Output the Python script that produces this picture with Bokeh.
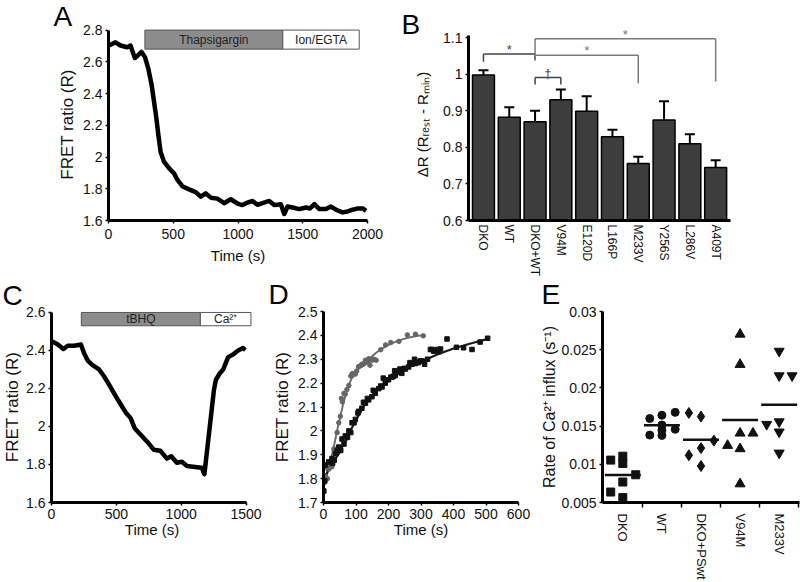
from bokeh.plotting import figure
from bokeh.layouts import row, column
from bokeh.models import Range1d, FixedTicker, ColumnDataSource, Whisker, TeeHead
from bokeh.core.properties import value
from bokeh.embed import file_html
from bokeh.resources import INLINE

FONT = "Liberation Sans"

# ---------------- Panel A data ----------------
a_time = [3, 54, 93, 144, 170, 183, 204, 227, 255, 281, 307, 333, 351, 369, 384, 402, 428, 467,
          505, 531, 570, 622, 673, 712, 751, 790, 841, 893, 944, 996, 1034, 1073, 1112, 1150,
          1189, 1241, 1280, 1331, 1357, 1383, 1422, 1473, 1525, 1556, 1590, 1628, 1680, 1718,
          1757, 1808, 1847, 1886, 1925, 1963, 1989]
a_ratio = [2.703, 2.723, 2.703, 2.692, 2.703, 2.672, 2.624, 2.641, 2.662, 2.631, 2.559, 2.455,
           2.352, 2.249, 2.146, 2.033, 1.971, 1.930, 1.899, 1.857, 1.816, 1.796, 1.779, 1.750,
           1.771, 1.744, 1.738, 1.709, 1.734, 1.707, 1.697, 1.713, 1.723, 1.699, 1.709, 1.723,
           1.697, 1.703, 1.641, 1.688, 1.682, 1.672, 1.682, 1.676, 1.703, 1.672, 1.672, 1.688,
           1.668, 1.651, 1.657, 1.668, 1.676, 1.676, 1.661]
a_stim_labels = ["Thapsigargin", "Ion/EGTA"]
a_stim_start = [281, 1346]
a_stim_end = [1346, 1936]
a_xticks = [0, 500, 1000, 1500, 2000]
a_xtick_labels = ["0", "500", "1000", "1500", "2000"]
a_yticks = [1.6, 1.8, 2.0, 2.2, 2.4, 2.6, 2.8]
a_ytick_labels = ["1.6", "1.8", "2", "2.2", "2.4", "2.6", "2.8"]

# ---------------- Panel B data ----------------
b_groups = ["DKO", "WT", "DKO+WT", "V94M", "E120D", "L166P", "M233V", "Y256S", "L286V", "A409T"]
b_means = [0.998, 0.882, 0.870, 0.930, 0.899, 0.829, 0.756, 0.875, 0.810, 0.745]
b_lower = [0.985, 0.853, 0.836, 0.900, 0.857, 0.812, 0.738, 0.822, 0.783, 0.725]
b_upper = [1.011, 0.910, 0.900, 0.958, 0.940, 0.848, 0.774, 0.926, 0.836, 0.765]
b_sig_from = ["DKO", "DKO+WT", "DKO+WT", "DKO+WT"]
b_sig_to = ["DKO+WT", "V94M", "M233V", "A409T"]
b_sig_mark = ["*", "\u2020", "*", "*"]
b_sig_level = [1.055, 0.991, 1.052, 1.097]
b_sig_left_end = [1.034, 0.972, 1.038, 1.038]
b_sig_right_end = [1.038, 0.972, 0.975, 0.980]
b_yticks = [0.6, 0.7, 0.8, 0.9, 1.0, 1.1]
b_ytick_labels = ["0.6", "0.7", "0.8", "0.9", "1", "1.1"]

# ---------------- Panel C data ----------------
c_time = [5, 49, 92, 125, 176, 227, 253, 278, 316, 367, 406, 444, 495, 533, 572, 610, 643, 686,
          738, 788, 839, 890, 924, 967, 1006, 1044, 1107, 1158, 1179, 1253, 1268, 1298, 1324,
          1342, 1362, 1400, 1439, 1477, 1495]
c_ratio = [2.448, 2.431, 2.408, 2.425, 2.425, 2.431, 2.383, 2.348, 2.323, 2.300, 2.263, 2.220,
           2.160, 2.117, 2.074, 2.044, 1.989, 1.958, 1.920, 1.878, 1.872, 1.831, 1.843, 1.809,
           1.814, 1.792, 1.787, 1.783, 1.749, 2.194, 2.246, 2.280, 2.300, 2.331, 2.365, 2.379,
           2.400, 2.413, 2.403]
c_stim_labels = ["tBHQ", "Ca\u00b2\u207a"]
c_stim_start = [230, 1148]
c_stim_end = [1148, 1538]
c_xticks = [0, 500, 1000, 1500]
c_xtick_labels = ["0", "500", "1000", "1500"]
c_yticks = [1.6, 1.8, 2.0, 2.2, 2.4, 2.6]
c_ytick_labels = ["1.6", "1.8", "2", "2.2", "2.4", "2.6"]

# ---------------- Panel D data ----------------
d_gray_t = [0, 1, 2, 5, 11, 12, 17, 22, 26, 32, 33, 42, 47, 52, 55, 58, 63, 67, 72, 78, 84, 88,
            89, 96, 98, 102, 108, 109, 117, 118, 123, 129, 130, 137, 139, 143, 149, 150, 155,
            162, 176, 191, 207, 232, 258, 283, 307]
d_gray_r = [1.78, 1.816, 1.86, 1.81, 1.843, 1.80, 1.84, 1.864, 1.85, 1.925, 1.918, 1.993, 2.034,
            2.061, 2.136, 2.122, 2.157, 2.154, 2.173, 2.19, 2.23, 2.232, 2.24, 2.24, 2.238, 2.25,
            2.268, 2.27, 2.275, 2.279, 2.28, 2.296, 2.286, 2.29, 2.302, 2.275, 2.30, 2.296, 2.30,
            2.296, 2.34, 2.36, 2.37, 2.375, 2.402, 2.405, 2.398]
d_black_t = [1, 4, 6, 16, 26, 28, 33, 37, 42, 47, 53, 57, 63, 67, 74, 78, 84, 88, 94, 98, 106,
             108, 118, 123, 129, 135, 139, 149, 153, 159, 170, 176, 180, 184, 190, 200, 207, 211,
             215, 219, 221, 231, 235, 241, 249, 252, 262, 266, 272, 280, 282, 288, 292, 297, 303,
             311, 320, 329, 334, 339, 350, 354, 360, 380, 409, 431, 457, 482, 505]
d_black_r = [1.748, 1.79, 1.857, 1.87, 1.884, 1.864, 1.877, 1.904, 1.918, 1.932, 1.918, 1.966,
             1.945, 1.979, 1.973, 2.0, 1.993, 2.034, 2.034, 2.048, 2.075, 2.082, 2.095, 2.12,
             2.116, 2.136, 2.13, 2.143, 2.17, 2.157, 2.177, 2.188, 2.184, 2.221, 2.2, 2.214,
             2.225, 2.225, 2.229, 2.252, 2.232, 2.245, 2.259, 2.241, 2.262, 2.259, 2.268, 2.286,
             2.279, 2.3, 2.282, 2.286, 2.286, 2.293, 2.293, 2.279, 2.30, 2.341, 2.341, 2.334,
             2.341, 2.331, 2.343, 2.385, 2.35, 2.348, 2.341, 2.372, 2.388]
d_gray_fit_t = [0, 10, 20, 30, 40, 50, 60, 70, 80, 90, 100, 120, 140, 160, 180, 200, 230, 260, 290, 310]
d_gray_fit_r = [1.78, 1.82, 1.87, 1.92, 1.99, 2.05, 2.11, 2.16, 2.20, 2.23, 2.25, 2.28, 2.30,
                2.325, 2.345, 2.36, 2.378, 2.39, 2.398, 2.40]
d_black_fit_t = [0, 10, 20, 30, 40, 50, 60, 70, 80, 90, 100, 120, 140, 160, 180, 200, 230, 260,
                 300, 350, 400, 450, 500, 510]
d_black_fit_r = [1.78, 1.82, 1.85, 1.87, 1.89, 1.91, 1.94, 1.96, 1.99, 2.02, 2.045, 2.095, 2.135,
                 2.165, 2.19, 2.21, 2.24, 2.265, 2.29, 2.32, 2.345, 2.365, 2.383, 2.387]
d_xticks = [0, 100, 200, 300, 400, 500, 600]
d_xtick_labels = ["0", "100", "200", "300", "400", "500", "600"]
d_yticks = [1.7, 1.8, 1.9, 2.0, 2.1, 2.2, 2.3, 2.4, 2.5]
d_ytick_labels = ["1.7", "1.8", "1.9", "2", "2.1", "2.2", "2.3", "2.4", "2.5"]

# ---------------- Panel E data ----------------
e_groups = ["DKO", "WT", "DKO+PSwt", "V94M", "M233V"]
e_dko = [0.01055, 0.00637, 0.01106, 0.01011, 0.00768, 0.00564, 0.00863]
e_dko_jitter = [-0.31, -0.31, 0, 0, 0, 0, 0.33]
e_wt = [0.01599, 0.01382, 0.01642, 0.01514, 0.01446, 0.01378, 0.0168, 0.01459]
e_wt_jitter = [-0.31, -0.31, 0, 0, 0, 0, 0.34, 0.34]
e_ps = [0.01672, 0.01118, 0.01625, 0.01212, 0.00977, 0.0131]
e_ps_jitter = [-0.31, -0.31, 0, 0, 0, 0.33]
e_v94m = [0.01246, 0.02702, 0.02306, 0.01407, 0.01203, 0.00743, 0.01407]
e_v94m_jitter = [-0.32, 0, 0, 0, 0, 0, 0.33]
e_m233v = [0.01523, 0.02481, 0.0216, 0.01557, 0.01424, 0.01148, 0.0216]
e_m233v_jitter = [-0.32, 0, 0, 0, 0, 0, 0.33]
e_means = [0.0086, 0.0151, 0.0132, 0.0158, 0.0178]
e_yticks = [0.005, 0.01, 0.015, 0.02, 0.025, 0.03]
e_ytick_labels = ["0.005", "0.01", "0.015", "0.02", "0.025", "0.03"]


def make_fig(w, h, left, right, top, bottom, xr, yr, letter, letter_x, letter_standoff):
    p = figure(width=w, height=h, x_range=xr, y_range=yr, output_backend="svg",
               toolbar_location=None, min_border_left=left, min_border_right=right,
               min_border_top=top, min_border_bottom=bottom)
    p.outline_line_color = None
    p.grid.visible = False
    p.background_fill_color = "white"
    p.border_fill_color = "white"
    for ax in p.axis:
        ax.axis_line_width = 3
        ax.axis_line_color = "black"
        ax.major_tick_line_width = 1.5
        ax.major_tick_out = 3
        ax.major_tick_in = 0
        ax.minor_tick_line_color = None
        ax.major_label_text_font = FONT
        ax.major_label_text_font_size = "14px"
        ax.major_label_text_color = "#111111"
        ax.major_label_standoff = 3
        ax.axis_label_text_font = FONT
        ax.axis_label_text_font_style = "normal"
        ax.axis_label_text_font_size = "15px"
        ax.axis_label_text_color = "#111111"
    # panel letter, drawn as the figure title in the top border
    p.title.text = letter
    p.title.text_font = FONT
    p.title.text_font_size = "28px"
    p.title.text_font_style = "normal"
    p.title.text_color = "black"
    p.title.align = "left"
    p.title.vertical_align = "top"
    p.title.offset = letter_x - left
    p.title.standoff = letter_standoff
    return p


def set_ticks(axis, ticks, labels):
    axis.ticker = FixedTicker(ticks=ticks)
    axis.major_label_overrides = dict(zip(ticks, labels))


def stim_bar(p, starts, ends, labels, bottom, top):
    p.quad(left=starts, right=ends, bottom=bottom, top=top,
           fill_color=["#8c8c8c", "white"], line_color="#555555", line_width=1)
    p.text(x=[(s + e) / 2 for s, e in zip(starts, ends)], y=(bottom + top) / 2, text=labels,
           text_align="center", text_baseline="middle", text_font=value(FONT),
           text_font_size="12px", text_color="#222222")


# ---------------- Panel A ----------------
pA = make_fig(400, 279, 108, 33, 28, 56, Range1d(0, 2000), Range1d(1.6, 2.81), "A", 53, -11)
stim_bar(pA, a_stim_start, a_stim_end, a_stim_labels, 2.68, 2.80)
pA.line(a_time, a_ratio, line_width=4.5, line_color="black", line_join="round")
set_ticks(pA.xaxis[0], a_xticks, a_xtick_labels)
set_ticks(pA.yaxis[0], a_yticks, a_ytick_labels)
pA.yaxis.bounds = (1.6, 2.8)
pA.xaxis.axis_label = "Time (s)"
pA.yaxis.axis_label = "FRET ratio (R)"
pA.yaxis.axis_label_text_font_size = "17px"
pA.yaxis.axis_label_standoff = 3
pA.xaxis.major_label_standoff = 5
pA.xaxis.axis_label_standoff = 5

# ---------------- Panel B ----------------
pB = make_fig(400, 279, 68, 70, 18, 56, Range1d(-0.58, 9.575), Range1d(0.6, 1.125), "B", 1, -26)
b_x = list(range(len(b_groups)))
pB.vbar(x=b_x, top=b_means, bottom=0.6, width=0.85, fill_color="#3d3d3d",
        line_color="black", line_width=1.5)
err_src = ColumnDataSource(dict(x=b_x, lower=b_lower, upper=b_upper))
pB.add_layout(Whisker(base="x", lower="lower", upper="upper", source=err_src,
                      line_width=2, line_color="black",
                      upper_head=TeeHead(size=10, line_width=2, line_color="black"),
                      lower_head=TeeHead(size=10, line_width=2, line_color="black")))
sig_colors = ["#444444", "#444444", "#7a7a7a", "#7a7a7a"]
for f, t, mark, lvl, le, re, col in zip(b_sig_from, b_sig_to, b_sig_mark, b_sig_level,
                                        b_sig_left_end, b_sig_right_end, sig_colors):
    i0, i1 = b_groups.index(f), b_groups.index(t)
    pB.segment(x0=[i0, i0, i1], y0=[lvl, lvl, lvl], x1=[i1, i0, i1], y1=[lvl, le, re],
               line_color=col, line_width=1.5)
    pB.text(x=[(i0 + i1) / 2], y=[lvl + 0.012], text=[mark], text_align="center",
            text_baseline="middle", text_font=value(FONT), text_font_size="13px",
            text_color=col)
pB.xaxis.ticker = FixedTicker(ticks=b_x)
pB.xaxis.major_label_overrides = dict(zip(b_x, b_groups))
pB.xaxis.major_label_orientation = "vertical"
pB.xaxis.major_tick_out = 0
pB.xaxis.major_label_standoff = 4
pB.xaxis.major_label_text_font_size = "12px"
set_ticks(pB.yaxis[0], b_yticks, b_ytick_labels)
pB.yaxis.bounds = (0.6, 1.106)
pB.yaxis.axis_label = "\u0394R (R\u1d63\u2091\u209b\u209c - R\u2098\u1d62\u2099)"
pB.yaxis.axis_label_standoff = 9

# ---------------- Panel C ----------------
pC = make_fig(265, 303, 50, 13, 31, 76, Range1d(0, 1550), Range1d(1.6, 2.605), "C", 1, -2)
stim_bar(pC, c_stim_start, c_stim_end, c_stim_labels, 2.53, 2.60)
pC.line(c_time, c_ratio, line_width=4.5, line_color="black", line_join="round")
set_ticks(pC.xaxis[0], c_xticks, c_xtick_labels)
set_ticks(pC.yaxis[0], c_yticks, c_ytick_labels)
pC.xaxis.bounds = (0, 1500)
pC.yaxis.bounds = (1.6, 2.6)
pC.xaxis.axis_label = "Time (s)"
pC.yaxis.axis_label = "FRET ratio (R)"
pC.yaxis.axis_label_text_font_size = "17px"
pC.yaxis.axis_label_standoff = 1
pC.xaxis.axis_label_standoff = -1

# ---------------- Panel D ----------------
pD = make_fig(265, 303, 58, 12, 32, 75, Range1d(0, 600), Range1d(1.7, 2.5), "D", 3, -1)
pD.line(d_gray_fit_t, d_gray_fit_r, line_width=2, line_color="#707070")
pD.line(d_black_fit_t, d_black_fit_r, line_width=2.2, line_color="#1a1a1a")
pD.scatter(d_gray_t, d_gray_r, marker="circle", size=4.5, fill_color="#666666",
           line_color="#666666")
pD.scatter(d_black_t, d_black_r, marker="square", size=4.5, fill_color="#111111",
           line_color="#111111")
set_ticks(pD.xaxis[0], d_xticks, d_xtick_labels)
set_ticks(pD.yaxis[0], d_yticks, d_ytick_labels)
pD.xaxis.axis_label = "Time (s)"
pD.yaxis.axis_label = "FRET ratio (R)"
pD.yaxis.axis_label_text_font_size = "17px"
pD.yaxis.axis_label_standoff = 3
pD.xaxis.axis_label_standoff = -1

# ---------------- Panel E ----------------
pE = make_fig(270, 303, 72, 1, 32, 75, Range1d(-0.52, 4.52), Range1d(0.005, 0.03), "E", 11, -1)
e_series = [(e_dko, e_dko_jitter, "square", 8), (e_wt, e_wt_jitter, "circle", 8),
            (e_ps, e_ps_jitter, "diamond", 11), (e_v94m, e_v94m_jitter, "triangle", 10),
            (e_m233v, e_m233v_jitter, "inverted_triangle", 10)]
for gi, (vals, jit, mk, sz) in enumerate(e_series):
    pE.scatter([gi + j for j in jit], vals, marker=mk, size=sz, fill_color="#111111",
               line_color="#111111")
e_x = list(range(len(e_groups)))
pE.segment(x0=[i - 0.46 for i in e_x], x1=[i + 0.46 for i in e_x], y0=e_means, y1=e_means,
           line_color="#111111", line_width=2.5)
pE.xaxis.ticker = FixedTicker(ticks=e_x, minor_ticks=[i + 0.5 for i in e_x])
pE.xaxis.major_label_overrides = dict(zip(e_x, e_groups))
pE.xaxis.major_label_orientation = "vertical"
pE.xaxis.major_tick_out = 0
pE.xaxis.minor_tick_line_color = "black"
pE.xaxis.minor_tick_line_width = 1.5
pE.xaxis.minor_tick_out = 5
pE.xaxis.minor_tick_in = 0
pE.xaxis.major_label_standoff = 6
pE.xaxis.major_label_text_font_size = "13px"
set_ticks(pE.yaxis[0], e_yticks, e_ytick_labels)
pE.yaxis.axis_label = "Rate of Ca\u00b2\u207a influx (s\u207b\u00b9)"
pE.yaxis.axis_label_text_font_size = "16px"
pE.yaxis.axis_label_standoff = 0

layout = column(row(pA, pB, spacing=0), row(pC, pD, pE, spacing=0), spacing=0)
open("out.html", "w").write(file_html(layout, INLINE))
